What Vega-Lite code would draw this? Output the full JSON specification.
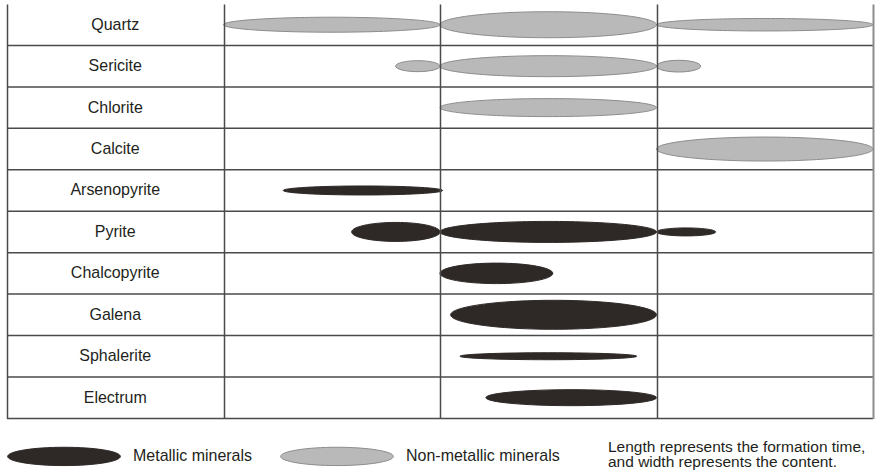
{
  "$schema": "https://vega.github.io/schema/vega-lite/v6.json",
  "width": 866,
  "height": 414.4,
  "autosize": {"type": "none"},
  "padding": {"left": 7, "top": 4, "right": 6, "bottom": 58},
  "background": "white",
  "config": {"view": {"stroke": null}, "font": "Liberation Sans"},
  "datasets": {
    "minerals": [
      {"mineral": "Quartz"}, {"mineral": "Sericite"}, {"mineral": "Chlorite"}, {"mineral": "Calcite"},
      {"mineral": "Arsenopyrite"}, {"mineral": "Pyrite"}, {"mineral": "Chalcopyrite"}, {"mineral": "Galena"},
      {"mineral": "Sphalerite"}, {"mineral": "Electrum"}
    ],
    "ellipses": [
      {"id": "Quartz-I", "mineral": "Quartz", "type": "Non-metallic minerals", "start": 0, "duration": 1, "content": 5.0},
      {"id": "Quartz-II", "mineral": "Quartz", "type": "Non-metallic minerals", "start": 1, "duration": 1, "content": 8.7},
      {"id": "Quartz-III", "mineral": "Quartz", "type": "Non-metallic minerals", "start": 2, "duration": 1, "content": 4.2},
      {"id": "Sericite-I", "mineral": "Sericite", "type": "Non-metallic minerals", "start": 0.795, "duration": 0.205, "content": 3.7},
      {"id": "Sericite-II", "mineral": "Sericite", "type": "Non-metallic minerals", "start": 1, "duration": 1, "content": 7.0},
      {"id": "Sericite-III", "mineral": "Sericite", "type": "Non-metallic minerals", "start": 2, "duration": 0.204, "content": 3.9},
      {"id": "Chlorite-II", "mineral": "Chlorite", "type": "Non-metallic minerals", "start": 1, "duration": 1, "content": 6.0},
      {"id": "Calcite-III", "mineral": "Calcite", "type": "Non-metallic minerals", "start": 2, "duration": 1, "content": 8.0},
      {"id": "Arsenopyrite-I", "mineral": "Arsenopyrite", "type": "Metallic minerals", "start": 0.276, "duration": 0.736, "content": 3.0},
      {"id": "Pyrite-I", "mineral": "Pyrite", "type": "Metallic minerals", "start": 0.592, "duration": 0.408, "content": 6.3},
      {"id": "Pyrite-II", "mineral": "Pyrite", "type": "Metallic minerals", "start": 1, "duration": 1, "content": 7.0},
      {"id": "Pyrite-III", "mineral": "Pyrite", "type": "Metallic minerals", "start": 2, "duration": 0.273, "content": 2.7},
      {"id": "Chalcopyrite-II", "mineral": "Chalcopyrite", "type": "Metallic minerals", "start": 1, "duration": 0.521, "content": 6.8},
      {"id": "Galena-II", "mineral": "Galena", "type": "Metallic minerals", "start": 1.049, "duration": 0.951, "content": 9.7},
      {"id": "Sphalerite-II", "mineral": "Sphalerite", "type": "Metallic minerals", "start": 1.092, "duration": 0.817, "content": 2.3},
      {"id": "Electrum-II", "mineral": "Electrum", "type": "Metallic minerals", "start": 1.212, "duration": 0.788, "content": 5.3}
    ]
  },
  "layer": [
    {
      "data": {"name": "minerals"},
      "mark": {"type": "rule", "color": "#4a4a4a", "strokeWidth": 1.5},
      "encoding": {
        "y": {
          "field": "mineral", "type": "nominal", "bandPosition": 1,
          "scale": {"domain": ["Quartz", "Sericite", "Chlorite", "Calcite", "Arsenopyrite", "Pyrite", "Chalcopyrite", "Galena", "Sphalerite", "Electrum"], "paddingInner": 0, "paddingOuter": 0},
          "axis": null
        }
      }
    },
    {
      "data": {"name": "minerals"},
      "mark": {"type": "text", "fontSize": 16, "color": "#231f20", "align": "center", "baseline": "middle", "font": "Liberation Sans"},
      "encoding": {
        "x": {
          "datum": -0.5, "type": "quantitative",
          "scale": {"domain": [-1, 3], "nice": false, "zero": false},
          "axis": {"values": [-1, 0, 1, 2, 3], "grid": true, "gridColor": {"condition": {"test": "datum.value === 3", "value": "#8c8c8c"}, "value": "#4a4a4a"}, "gridWidth": {"condition": {"test": "datum.value === 3", "value": 2}, "value": 1.5}, "labels": false, "ticks": false, "domain": false, "title": null, "zindex": 1}
        },
        "y": {
          "field": "mineral", "type": "nominal",
          "scale": {"domain": ["Quartz", "Sericite", "Chlorite", "Calcite", "Arsenopyrite", "Pyrite", "Chalcopyrite", "Galena", "Sphalerite", "Electrum"], "paddingInner": 0, "paddingOuter": 0},
          "axis": null
        },
        "text": {"field": "mineral"}
      }
    },
    {
      "data": {"name": "ellipses"},
      "mark": {"type": "point", "filled": true, "opacity": 1, "strokeWidth": 1},
      "encoding": {
        "x": {
          "field": "start", "type": "quantitative",
          "scale": {"domain": [-1, 3], "nice": false, "zero": false},
          "axis": {"values": [-1, 0, 1, 2, 3], "grid": true, "gridColor": {"condition": {"test": "datum.value === 3", "value": "#8c8c8c"}, "value": "#4a4a4a"}, "gridWidth": {"condition": {"test": "datum.value === 3", "value": 2}, "value": 1.5}, "labels": false, "ticks": false, "domain": false, "title": null, "zindex": 1}
        },
        "y": {
          "field": "mineral", "type": "nominal",
          "scale": {"domain": ["Quartz", "Sericite", "Chlorite", "Calcite", "Arsenopyrite", "Pyrite", "Chalcopyrite", "Galena", "Sphalerite", "Electrum"], "paddingInner": 0, "paddingOuter": 0},
          "axis": null
        },
        "size": {
          "field": "duration", "type": "quantitative",
          "scale": {"type": "pow", "exponent": 2, "domain": [0, 2], "range": [0, 187489], "zero": true},
          "legend": null
        },
        "shape": {
          "field": "id", "type": "nominal", "legend": null,
          "scale": {
            "domain": ["Quartz-I", "Quartz-II", "Quartz-III", "Sericite-I", "Sericite-II", "Sericite-III", "Chlorite-II", "Calcite-III", "Arsenopyrite-I", "Pyrite-I", "Pyrite-II", "Pyrite-III", "Chalcopyrite-II", "Galena-II", "Sphalerite-II", "Electrum-II"],
            "range": [
              "M0 0 C0 -0.0383 0.4477 -0.0693 1 -0.0693 C1.5523 -0.0693 2 -0.0383 2 0 C2 0.0383 1.5523 0.0693 1 0.0693 C0.4477 0.0693 0 0.0383 0 0 Z",
              "M0 0 C0 -0.0663 0.4477 -0.1201 1 -0.1201 C1.5523 -0.1201 2 -0.0663 2 0 C2 0.0663 1.5523 0.1201 1 0.1201 C0.4477 0.1201 0 0.0663 0 0 Z",
              "M0 0 C0 -0.0319 0.4477 -0.0577 1 -0.0577 C1.5523 -0.0577 2 -0.0319 2 0 C2 0.0319 1.5523 0.0577 1 0.0577 C0.4477 0.0577 0 0.0319 0 0 Z",
              "M0 0 C0 -0.1368 0.4477 -0.2477 1 -0.2477 C1.5523 -0.2477 2 -0.1368 2 0 C2 0.1368 1.5523 0.2477 1 0.2477 C0.4477 0.2477 0 0.1368 0 0 Z",
              "M0 0 C0 -0.0536 0.4477 -0.0970 1 -0.0970 C1.5523 -0.0970 2 -0.0536 2 0 C2 0.0536 1.5523 0.0970 1 0.0970 C0.4477 0.0970 0 0.0536 0 0 Z",
              "M0 0 C0 -0.1462 0.4477 -0.2647 1 -0.2647 C1.5523 -0.2647 2 -0.1462 2 0 C2 0.1462 1.5523 0.2647 1 0.2647 C0.4477 0.2647 0 0.1462 0 0 Z",
              "M0 0 C0 -0.0459 0.4477 -0.0831 1 -0.0831 C1.5523 -0.0831 2 -0.0459 2 0 C2 0.0459 1.5523 0.0831 1 0.0831 C0.4477 0.0831 0 0.0459 0 0 Z",
              "M0 0 C0 -0.0612 0.4477 -0.1109 1 -0.1109 C1.5523 -0.1109 2 -0.0612 2 0 C2 0.0612 1.5523 0.1109 1 0.1109 C0.4477 0.1109 0 0.0612 0 0 Z",
              "M0 0 C0 -0.0312 0.4477 -0.0565 1 -0.0565 C1.5523 -0.0565 2 -0.0312 2 0 C2 0.0312 1.5523 0.0565 1 0.0565 C0.4477 0.0565 0 0.0312 0 0 Z",
              "M0 0 C0 -0.1189 0.4477 -0.2152 1 -0.2152 C1.5523 -0.2152 2 -0.1189 2 0 C2 0.1189 1.5523 0.2152 1 0.2152 C0.4477 0.2152 0 0.1189 0 0 Z",
              "M0 0 C0 -0.0536 0.4477 -0.0970 1 -0.0970 C1.5523 -0.0970 2 -0.0536 2 0 C2 0.0536 1.5523 0.0970 1 0.0970 C0.4477 0.0970 0 0.0536 0 0 Z",
              "M0 0 C0 -0.0748 0.4477 -0.1354 1 -0.1354 C1.5523 -0.1354 2 -0.0748 2 0 C2 0.0748 1.5523 0.1354 1 0.1354 C0.4477 0.1354 0 0.0748 0 0 Z",
              "M0 0 C0 -0.1005 0.4477 -0.1819 1 -0.1819 C1.5523 -0.1819 2 -0.1005 2 0 C2 0.1005 1.5523 0.1819 1 0.1819 C0.4477 0.1819 0 0.1005 0 0 Z",
              "M0 0 C0 -0.0778 0.4477 -0.1408 1 -0.1408 C1.5523 -0.1408 2 -0.0778 2 0 C2 0.0778 1.5523 0.1408 1 0.1408 C0.4477 0.1408 0 0.0778 0 0 Z",
              "M0 0 C0 -0.0219 0.4477 -0.0396 1 -0.0396 C1.5523 -0.0396 2 -0.0219 2 0 C2 0.0219 1.5523 0.0396 1 0.0396 C0.4477 0.0396 0 0.0219 0 0 Z",
              "M0 0 C0 -0.0518 0.4477 -0.0938 1 -0.0938 C1.5523 -0.0938 2 -0.0518 2 0 C2 0.0518 1.5523 0.0938 1 0.0938 C0.4477 0.0938 0 0.0518 0 0 Z"
            ]
          }
        },
        "color": {
          "field": "type", "type": "nominal",
          "scale": {"domain": ["Metallic minerals", "Non-metallic minerals"], "range": ["#2e2927", "#b9b9b9"]},
          "legend": {
            "orient": "none", "legendX": 0, "legendY": 395, "direction": "horizontal", "padding": 0,
            "symbolType": "M-1 0 C-1 -0.0897 -0.5523 -0.1624 0 -0.1624 C0.5523 -0.1624 1 -0.0897 1 0 C1 0.0897 0.5523 0.1624 0 0.1624 C-0.5523 0.1624 -1 0.0897 -1 0 Z",
            "symbolSize": 12701, "symbolOffset": 0, "symbolStrokeWidth": 1,
            "labelOffset": 12, "columnPadding": 25, "labelFont": "Liberation Sans", "labelFontSize": 16, "labelColor": "#231f20", "labelLimit": 300,
            "title": ["Length represents the formation time,", "and width represents the content."],
            "titleOrient": "right", "titleAnchor": "end", "titleBaseline": "alphabetic", "titleAlign": "left", "titlePadding": 48,
            "titleFont": "Liberation Sans", "titleFontSize": 15.5, "titleFontWeight": "normal", "titleColor": "#231f20", "titleLineHeight": 15.5, "titleLimit": 400
          }
        },
        "stroke": {
          "field": "type", "type": "nominal",
          "scale": {"domain": ["Metallic minerals", "Non-metallic minerals"], "range": ["#2e2927", "#8c8c8c"]},
          "legend": {
            "orient": "none", "legendX": 0, "legendY": 395, "direction": "horizontal", "padding": 0,
            "symbolType": "M-1 0 C-1 -0.0897 -0.5523 -0.1624 0 -0.1624 C0.5523 -0.1624 1 -0.0897 1 0 C1 0.0897 0.5523 0.1624 0 0.1624 C-0.5523 0.1624 -1 0.0897 -1 0 Z",
            "symbolSize": 12701, "symbolOffset": 0, "symbolStrokeWidth": 1,
            "labelOffset": 12, "columnPadding": 25, "labelFont": "Liberation Sans", "labelFontSize": 16, "labelColor": "#231f20", "labelLimit": 300,
            "title": ["Length represents the formation time,", "and width represents the content."],
            "titleOrient": "right", "titleAnchor": "end", "titleBaseline": "alphabetic", "titleAlign": "left", "titlePadding": 48,
            "titleFont": "Liberation Sans", "titleFontSize": 15.5, "titleFontWeight": "normal", "titleColor": "#231f20", "titleLineHeight": 15.5, "titleLimit": 400
          }
        }
      }
    }
  ]
}
